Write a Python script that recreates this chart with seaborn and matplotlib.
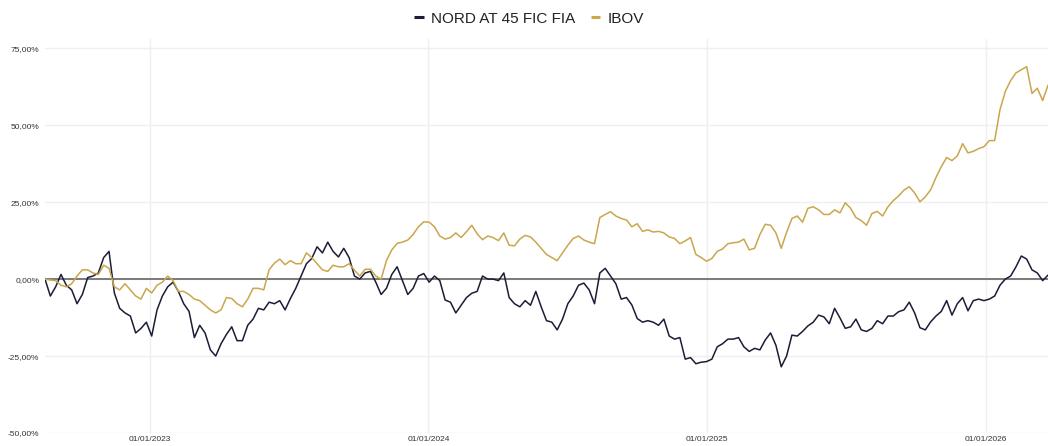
import numpy as np
import pandas as pd
import matplotlib
matplotlib.use("Agg")
import matplotlib.pyplot as plt
import matplotlib.dates as mdates
from matplotlib.ticker import FuncFormatter
from matplotlib.lines import Line2D
import seaborn as sns

# Datas semanais (eixo x) - de meados de ago/2022 até fim de mar/2026
datas = pd.date_range("2022-08-16", periods=189, freq="7D")

# Retorno acumulado (%)
nord = [
    0, -5.5, -2.5, 1.5, -2, -3.5, -8, -5, 0.5, 1,
    2, 7, 9, -4.5, -9.5, -11, -12, -17.5, -16, -14,
    -18.5, -10, -5.5, -2.5, -1, -4, -8, -10.5, -19, -15,
    -17.5, -23, -25, -21, -18, -15.5, -20, -20, -15, -13,
    -9.5, -10, -7.5, -8, -7, -10, -6.3, -3, 1, 5,
    6.7, 10.5, 8.5, 12, 9, 7.2, 10, 7, 1, 0,
    2, 2.5, -1, -5, -3, 1.5, 4, -0.5, -5, -3,
    1, 1.8, -1, 1, -0.5, -6.8, -7.5, -11, -8.5, -6,
    -4.6, -4, 1, 0, 0, -0.5, 2, -6, -8, -9,
    -7, -8.5, -4, -9, -13.5, -14, -16.5, -13, -8, -5.5,
    -2, -1.3, -3.5, -8, 2, 3.5, 1, -1.5, -6.5, -6,
    -8.4, -12.8, -14, -13.5, -14, -15, -13, -18.5, -19.5, -19,
    -26, -25.5, -27.5, -27, -26.8, -26, -22, -21, -19.5, -19.5,
    -19, -22, -23.5, -22.5, -23, -19.8, -17.5, -21.5, -28.5, -25,
    -18.2, -18.5, -17, -15.2, -14, -11.7, -12.3, -14.5, -9.5, -12.6,
    -16, -15.5, -13, -16.5, -17, -16, -13.5, -14.5, -12, -12,
    -10.6, -10, -7.5, -11, -15.8, -16.5, -13.9, -12, -10.5, -7,
    -11.7, -8, -6, -10.3, -7, -6.5, -7, -6.5, -5.5, -2,
    0, 1, 4, 7.5, 6.5, 3, 2, -0.5, 1.3,
]

ibov = [
    0, -0.3, -0.5, -2, -2.5, -1.5, 1, 3, 3, 2,
    1.5, 4.5, 3.5, -2.5, -3.5, -1.5, -3.5, -5.5, -6.5, -3,
    -4.5, -2, -1, 1, -0.5, -4, -4, -5, -6.5, -7,
    -8.5, -10, -11, -10, -6, -6.3, -8, -9, -6.5, -3,
    -3, -3.5, 3, 5.2, 6.5, 4.7, 6, 5, 5, 8.5,
    7, 5, 3, 2.5, 4.5, 4, 4, 5, 2.9, 1,
    3.2, 3.2, 1, 0, 6, 9.5, 11.6, 12, 12.7, 14.5,
    17, 18.6, 18.5, 17, 14, 13, 13.5, 15, 13.5, 15.4,
    17.5, 14.7, 12.8, 14, 13.5, 12.5, 15, 11, 10.8, 13,
    14.2, 13.7, 12, 10, 8, 7, 6, 8.5, 11, 13.2,
    14, 12.7, 12, 11.5, 20, 21, 21.9, 20.5, 19.7, 19.2,
    17, 18, 15.5, 16, 15.3, 15.5, 15, 13.7, 13.2, 11.5,
    12.4, 13.5, 8, 7, 5.8, 6.7, 9, 9.8, 11.5, 11.8,
    12, 13, 9.5, 10, 14.5, 17.8, 17.5, 15, 10, 15.2,
    19.7, 20.5, 18.5, 23, 23.5, 22.5, 21, 21, 22.5, 21.5,
    24.8, 23, 20, 19, 17.5, 21.3, 22, 20.5, 23.5, 25.5,
    27, 28.9, 30, 28, 25.1, 26.7, 29, 33, 36.5, 39.5,
    38.5, 40, 44, 41, 41.5, 42.4, 43, 45, 45, 55,
    61, 64.5, 67, 68, 69, 60.3, 62, 58, 63,
]

series = ["NORD AT 45 FIC FIA", "IBOV"]
cores = {"NORD AT 45 FIC FIA": "#1b1d36", "IBOV": "#caa64c"}

df = pd.concat([
    pd.DataFrame({"data": datas, "valor": nord, "serie": series[0]}),
    pd.DataFrame({"data": datas, "valor": ibov, "serie": series[1]}),
])

sns.set_theme(style="white")
plt.rcParams["font.family"] = ["Liberation Sans", "DejaVu Sans"]

fig = plt.figure(figsize=(10.48, 4.46), dpi=100)
ax = fig.add_axes([45 / 1048, 13 / 446, 1003 / 1048, 394 / 446])

# linha do zero
ax.axhline(0, color="#7a7a7a", lw=1.4, zorder=1)

sns.lineplot(data=df, x="data", y="valor", hue="serie", hue_order=series,
             palette=cores, linewidth=1.1, ax=ax, legend=False, zorder=3)

ax.set_ylim(-50, 78)
ax.set_xlim(datas[0], datas[-1])
ax.set_yticks([-50, -25, 0, 25, 50, 75])
ax.yaxis.set_major_formatter(FuncFormatter(lambda v, p: f"{v:.2f}%".replace(".", ",")))
ax.xaxis.set_major_locator(mdates.YearLocator())
ax.xaxis.set_major_formatter(mdates.DateFormatter("%d/%m/%Y"))

ax.grid(True, color="#efefef", lw=1, zorder=0)
ax.set_axisbelow(True)
for s in ax.spines.values():
    s.set_visible(False)
ax.tick_params(axis="both", length=0, labelsize=6, labelcolor="#333333")
ax.tick_params(axis="y", pad=4)
ax.tick_params(axis="x", pad=2)
ax.set_xlabel("")
ax.set_ylabel("")

handles = [Line2D([0], [0], color=cores[s], lw=2.2, solid_capstyle="butt") for s in series]
fig.legend(handles, series, loc="upper center", bbox_to_anchor=(0.505, 1.005),
           ncol=2, frameon=False, fontsize=11, handlelength=0.6,
           handletextpad=0.5, columnspacing=1.0, labelcolor="#222222")

fig.savefig("out.png", dpi=100)
